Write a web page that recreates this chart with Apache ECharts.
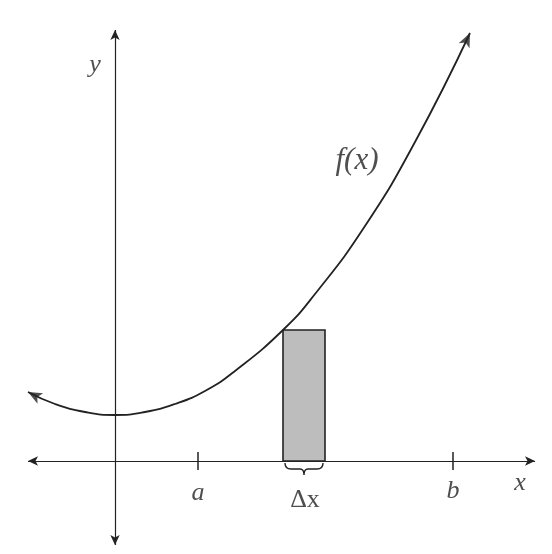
<!DOCTYPE html>
<html>
<head>
<meta charset="utf-8">
<script src="https://cdn.jsdelivr.net/npm/echarts@6/dist/echarts.min.js"></script>
<style>html,body{margin:0;background:#fff}#c{width:552px;height:554px}</style>
</head>
<body>
<div id="c"></div>
<script>
// curve points (x, y in axis units)
const curveX = [-8.7, -6, -3, 0, 3, 6, 9, 12, 16.8, 20, 25, 30, 35.5];
const curveY = [6.9, 5.7, 4.9, 4.6, 4.9, 5.7, 7.0, 9.0, 13.1, 16.7, 23.5, 31.9, 42.8];
const rectX = [16.8, 21];
const rectH = 13.1;
const ticks = [{ x: 8.3, label: 'a' }, { x: 33.8, label: 'b' }];

const chart = echarts.init(document.getElementById('c'));
const serif = 'Liberation Serif';
const ink = '#222';

const labels = [
  { value: [8.3, -3.2], text: 'a', italic: true, size: 26 },
  { value: [33.8, -3.0], text: 'b', italic: true, size: 26 },
  { value: [19, -3.9], text: 'Δx', italic: false, size: 26 },
  { value: [40.5, -2.2], text: 'x', italic: true, size: 26 },
  { value: [-2, 39.6], text: 'y', italic: true, size: 26 },
  { value: [24.2, 30.0], text: 'f(x)', italic: true, size: 31 }
];

chart.setOption({
  animation: false,
  grid: { left: 0, right: 0, top: 0, bottom: 0 },
  xAxis: { type: 'value', min: -11.5, max: 43.7, show: false },
  yAxis: { type: 'value', min: -9.3, max: 46.1, show: false },
  series: [
    {
      type: 'line', data: [], silent: true,
      markLine: {
        silent: true, symbol: ['arrow', 'arrow'], symbolSize: [7, 10],
        label: { show: false },
        lineStyle: { color: ink, width: 1.2, type: 'solid' },
        data: [
          [{ coord: [-8.7, 0] }, { coord: [42, 0] }],
          [{ coord: [0, -8.4] }, { coord: [0, 43.1] }]
        ]
      }
    },
    {
      type: 'line', data: [], silent: true,
      markLine: {
        silent: true, symbol: 'none', label: { show: false },
        lineStyle: { color: ink, width: 1.5, type: 'solid' },
        data: ticks.map(t => [{ coord: [t.x, -0.9] }, { coord: [t.x, 0.9] }])
      }
    },
    {
      type: 'custom',
      renderItem: (params, api) => {
        const p0 = api.coord([rectX[0], rectH]);
        const p1 = api.coord([rectX[1], 0]);
        return {
          type: 'rect',
          shape: { x: p0[0], y: p0[1], width: p1[0] - p0[0], height: p1[1] - p0[1] },
          style: { fill: '#bdbdbd', stroke: ink, lineWidth: 1.6 }
        };
      },
      data: [[0]]
    },
    {
      type: 'custom',
      renderItem: (params, api) => {
        const a = api.coord([rectX[0] + 0.2, -0.2]);
        const b = api.coord([rectX[1] - 0.2, -0.2]);
        const m = (a[0] + b[0]) / 2, y = a[1], h = 6;
        return {
          type: 'path',
          shape: {
            pathData: `M${a[0]},${y} Q${a[0]},${y + h} ${a[0] + 6},${y + h} L${m - 4},${y + h} Q${m},${y + h} ${m},${y + 2 * h} Q${m},${y + h} ${m + 4},${y + h} L${b[0] - 6},${y + h} Q${b[0]},${y + h} ${b[0]},${y}`
          },
          style: { fill: null, stroke: ink, lineWidth: 1.4 }
        };
      },
      data: [[0]]
    },
    {
      type: 'line', smooth: true, symbol: 'none',
      lineStyle: { color: ink, width: 1.8 },
      data: curveX.map((x, i) => [x, curveY[i]])
    },
    {
      type: 'scatter', symbol: 'arrow', symbolSize: [9, 14],
      itemStyle: { color: ink },
      data: [
        { value: [curveX[0], curveY[0]], symbolRotate: 62 },
        { value: [curveX[curveX.length - 1], curveY[curveY.length - 1]], symbolRotate: -25 }
      ]
    },
    {
      type: 'scatter', symbolSize: 0,
      data: labels.map(l => ({
        value: l.value,
        label: {
          show: true, position: 'inside', formatter: l.text,
          fontFamily: serif, fontSize: l.size, color: ink,
          fontStyle: l.italic ? 'italic' : 'normal'
        }
      }))
    }
  ]
});
</script>
</body>
</html>
